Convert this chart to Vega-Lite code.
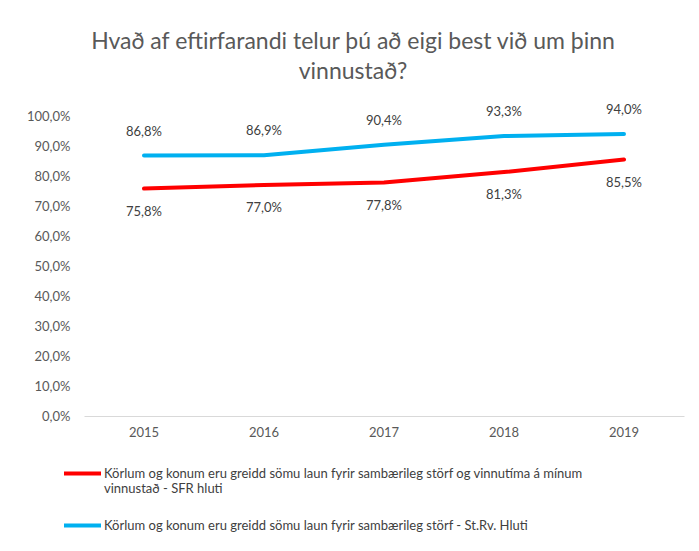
{
  "$schema": "https://vega.github.io/schema/vega-lite/v6.json",
  "width": 600,
  "height": 300,
  "autosize": "none",
  "padding": {"left": 84, "top": 116, "right": 14, "bottom": 135},
  "background": "white",
  "title": {
    "text": ["Hvað af eftirfarandi telur þú að eigi best við um þinn", "vinnustað?"],
    "fontSize": 23,
    "font": "Lato",
    "fontWeight": "normal",
    "color": "#595959",
    "anchor": "middle",
    "dx": -31,
    "offset": 20,
    "lineHeight": 30
  },
  "config": {
    "view": {"stroke": null},
    "font": "Lato",
    "locale": {
      "number": {"decimal": ",", "thousands": ".", "grouping": [3], "currency": ["", " kr."]}
    }
  },
  "data": {
    "values": [
      {"year": "2015", "series": "Körlum og konum eru greidd sömu laun fyrir sambærileg störf og vinnutíma á mínum vinnustað - SFR hluti", "value": 0.758},
      {"year": "2016", "series": "Körlum og konum eru greidd sömu laun fyrir sambærileg störf og vinnutíma á mínum vinnustað - SFR hluti", "value": 0.770},
      {"year": "2017", "series": "Körlum og konum eru greidd sömu laun fyrir sambærileg störf og vinnutíma á mínum vinnustað - SFR hluti", "value": 0.778},
      {"year": "2018", "series": "Körlum og konum eru greidd sömu laun fyrir sambærileg störf og vinnutíma á mínum vinnustað - SFR hluti", "value": 0.813},
      {"year": "2019", "series": "Körlum og konum eru greidd sömu laun fyrir sambærileg störf og vinnutíma á mínum vinnustað - SFR hluti", "value": 0.855},
      {"year": "2015", "series": "Körlum og konum eru greidd sömu laun fyrir sambærileg störf - St.Rv. Hluti", "value": 0.868},
      {"year": "2016", "series": "Körlum og konum eru greidd sömu laun fyrir sambærileg störf - St.Rv. Hluti", "value": 0.869},
      {"year": "2017", "series": "Körlum og konum eru greidd sömu laun fyrir sambærileg störf - St.Rv. Hluti", "value": 0.904},
      {"year": "2018", "series": "Körlum og konum eru greidd sömu laun fyrir sambærileg störf - St.Rv. Hluti", "value": 0.933},
      {"year": "2019", "series": "Körlum og konum eru greidd sömu laun fyrir sambærileg störf - St.Rv. Hluti", "value": 0.940}
    ]
  },
  "encoding": {
    "x": {
      "field": "year",
      "type": "ordinal",
      "scale": {"type": "band", "paddingInner": 0, "paddingOuter": 0},
      "axis": {
        "title": null,
        "labelAngle": 0,
        "labelFontSize": 13,
        "labelColor": "#595959",
        "labelPadding": 10,
        "ticks": false,
        "domainColor": "#D9D9D9",
        "domainWidth": 1
      }
    },
    "y": {
      "field": "value",
      "type": "quantitative",
      "scale": {"domain": [0, 1], "nice": false},
      "axis": {
        "title": null,
        "values": [0, 0.1, 0.2, 0.3, 0.4, 0.5, 0.6, 0.7, 0.8, 0.9, 1.0],
        "format": ".1%",
        "labelFontSize": 13,
        "labelColor": "#595959",
        "labelPadding": 14,
        "grid": false,
        "ticks": false,
        "domain": false
      }
    }
  },
  "layer": [
    {
      "mark": {"type": "line", "strokeWidth": 4, "strokeCap": "round"},
      "encoding": {
        "color": {
          "field": "series",
          "type": "nominal",
          "scale": {
            "domain": [
              "Körlum og konum eru greidd sömu laun fyrir sambærileg störf og vinnutíma á mínum vinnustað - SFR hluti",
              "Körlum og konum eru greidd sömu laun fyrir sambærileg störf - St.Rv. Hluti"
            ],
            "range": ["#FF0000", "#00B0F0"]
          },
          "legend": {
            "title": null,
            "orient": "none",
            "legendX": -22,
            "legendY": 337,
            "direction": "vertical",
            "symbolType": "stroke",
            "symbolStrokeWidth": 4,
            "symbolSize": 1369,
            "labelFontSize": 13,
            "labelColor": "#404040",
            "labelLimit": 700,
            "labelOffset": 1,
            "rowPadding": 9,
            "labelBaseline": "middle",
            "labelExpr": "datum.label == 'Körlum og konum eru greidd sömu laun fyrir sambærileg störf og vinnutíma á mínum vinnustað - SFR hluti' ? ['Körlum og konum eru greidd sömu laun fyrir sambærileg störf og vinnutíma á mínum', 'vinnustað - SFR hluti'] : datum.label"
          }
        }
      }
    },
    {
      "transform": [{"filter": "datum.series == 'Körlum og konum eru greidd sömu laun fyrir sambærileg störf og vinnutíma á mínum vinnustað - SFR hluti'"}],
      "mark": {"type": "text", "fontSize": 13, "color": "#404040", "dy": 23},
      "encoding": {
        "text": {"field": "value", "type": "quantitative", "format": ".1%"}
      }
    },
    {
      "transform": [{"filter": "datum.series == 'Körlum og konum eru greidd sömu laun fyrir sambærileg störf - St.Rv. Hluti'"}],
      "mark": {"type": "text", "fontSize": 13, "color": "#404040", "dy": -24},
      "encoding": {
        "text": {"field": "value", "type": "quantitative", "format": ".1%"}
      }
    }
  ]
}
